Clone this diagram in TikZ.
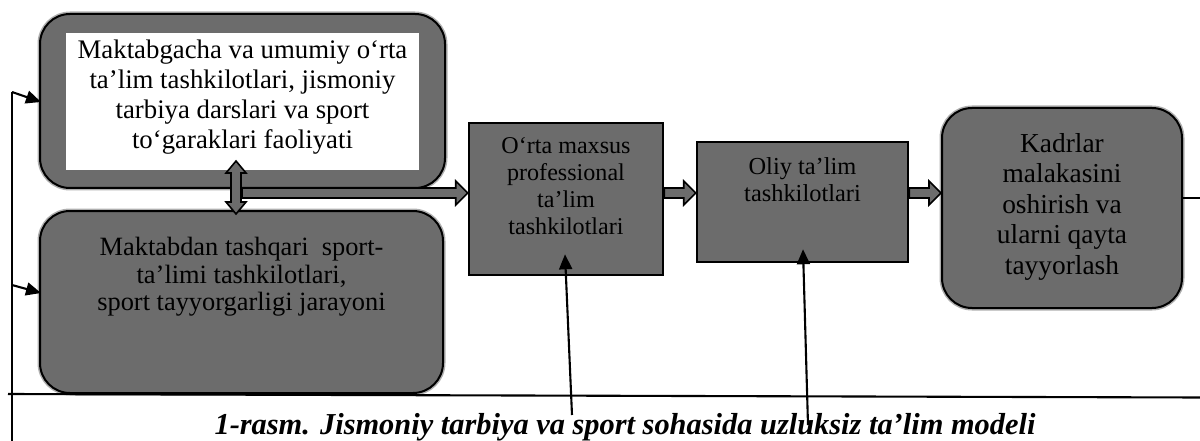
\documentclass[tikz,border=0pt]{standalone}
\usepackage{fontspec}
\setmainfont{Liberation Serif}
\usetikzlibrary{positioning,calc,arrows.meta}
\definecolor{boxGray}{RGB}{108,108,108}
\definecolor{haloGray}{RGB}{175,175,175}

\begin{document}
\begin{tikzpicture}
[x=1pt, y=-1pt,
 roundBox/.style={draw=black, line width=2pt, fill=boxGray, rounded corners=30pt,
   inner sep=0pt, preaction={draw=haloGray, line width=5pt}},
 flatBox/.style={draw=black, line width=2.6pt, fill=boxGray, inner sep=0pt},
 boxText/.style={inner sep=0pt, align=center, text=black},
 fatArrow/.style={draw=black, line width=1.6pt, fill=boxGray, line join=miter},
 thinLine/.style={draw=black, line width=2.1pt},
 feedArrow/.style={thinLine, -{Triangle[length=15pt,width=13pt]}}]
\useasboundingbox (0,0) rectangle (1200,441);
%% boxes
\foreach \name/\x/\y/\w/\h in {b1/242.5/101/405/174, b2/241.5/302/403/182, b5/1062/208/240/200}
{
  \node[roundBox, minimum width=\w pt, minimum height=\h pt] (\name) at (\x,\y) {};
}
\foreach \name/\x/\y/\w/\h in {b3/566/199/194/152, b4/802.5/202/211/120}
{
  \node[flatBox, minimum width=\w pt, minimum height=\h pt] (\name) at (\x,\y) {};
}
\node[fill=white, inner sep=0pt, minimum width=353pt, minimum height=137pt] (b1in) at (242.5,101.5) {};
%% texts
\node[boxText, font=\fontsize{26.8}{30}\selectfont, below=7pt of b1in.north] (t1)
  {Maktabgacha va umumiy o‘rta\\ta’lim tashkilotlari, jismoniy\\tarbiya darslari va sport\\to‘garaklari faoliyati};
\node[boxText, font=\fontsize{26.4}{27.5}\selectfont, below=27pt of b2.north] (t2)
  {Maktabdan tashqari~ sport-\\ta’limi tashkilotlari,\\sport tayyorgarligi jarayoni};
\node[boxText, font=\fontsize{24.1}{27}\selectfont, below=16pt of b3.north] (t3)
  {O‘rta maxsus\\professional\\ta’lim\\tashkilotlari};
\node[boxText, font=\fontsize{24.4}{27}\selectfont, below=16.5pt of b4.north] (t4)
  {Oliy ta’lim\\tashkilotlari};
\node[boxText, font=\fontsize{27.4}{30.5}\selectfont, below=26pt of b5.north] (t5)
  {Kadrlar\\malakasini\\oshirish va\\ularni qayta\\tayyorlash};
\node[anchor=base, inner sep=0pt, font=\bfseries\itshape\fontsize{30.4}{34}\selectfont] (caption) at (625,434)
  {1-rasm. Jismoniy tarbiya va sport sohasida uzluksiz ta’lim modeli};
%% helper points
\coordinate (flow) at (0,193);
\coordinate (dblTop) at ($(b1.south)+(-6.5,-28)$);
\coordinate (dblBot) at ($(b2.north)+(-5.5,4)$);
\coordinate (split) at ($(dblTop)+(6,33)$);
\coordinate (loopTop) at (12,92);
\coordinate (loopMid) at (12,285);
\coordinate (loopBot) at (12,441);
\coordinate (baseL) at (8,394);
\coordinate (baseR) at (1200,397.5);
\coordinate (exitR) at (1200,198);
\coordinate (inA) at (572,415);
\coordinate (inB) at (808,425);
%% fat arrows
\foreach \from/\to in {split/b3.west, b3.east/b4.west, b4.east/b5.west}
{
  \coordinate (s) at (\from |- flow);
  \coordinate (t) at (\to |- flow);
  \draw[fatArrow] ($(s)+(0,-5)$) -- ($(t)+(-12,-5)$) -- ($(t)+(-12,-12)$) -- (t)
    -- ($(t)+(-12,12)$) -- ($(t)+(-12,5)$) -- ($(s)+(0,5)$) -- cycle;
}
\draw[fatArrow] (dblTop) -- ++(10,12) -- ++(-5,0) -- ($(dblBot)+(5,-12)$) -- ++(5,0) -- (dblBot)
  -- ++(-10,-12) -- ++(5,0) -- ($(dblTop)+(-5,12)$) -- ++(-5,0) -- cycle;
%% lines
\draw[thinLine] (loopBot) -- (loopTop);
\draw[feedArrow] (loopTop) -- ($(b1.west)+(2,1)$);
\draw[feedArrow] (loopMid) -- ($(b2.west)+(2,-9)$);
\draw[thinLine] (baseL) -- (baseR);
\draw[thinLine] (b5.east |- exitR) -- (exitR);
\draw[feedArrow] (inA) -- ($(b3.south)+(-1,-22)$);
\draw[feedArrow] (inB) -- ($(b4.south)+(0.5,-14)$);
\end{tikzpicture}
\end{document}
